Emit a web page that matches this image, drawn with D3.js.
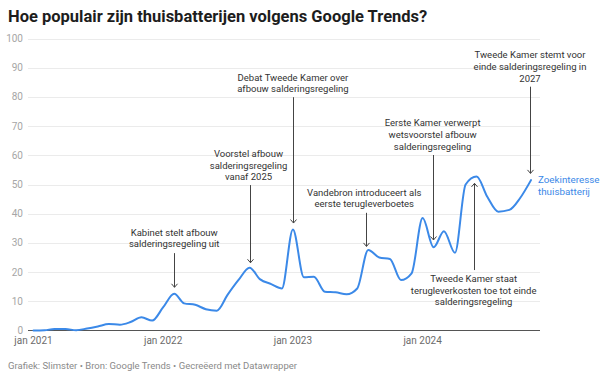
<!DOCTYPE html>
<html>
<head>
<meta charset="utf-8">
<script src="https://cdn.jsdelivr.net/npm/d3@7"></script>
<style>
  body { margin: 0; background: #fff; font-family: Roboto, "Noto Sans", sans-serif; }
  svg { display: block; }
</style>
</head>
<body>
<div id="chart"></div>
<script>
// Google Trends search interest "thuisbatterij", monthly
const months = [
  "2021-01", "2021-02", "2021-03", "2021-04", "2021-05", "2021-06", "2021-07", "2021-08", "2021-09", "2021-10", "2021-11", "2021-12",
  "2022-01", "2022-02", "2022-03", "2022-04", "2022-05", "2022-06", "2022-07", "2022-08", "2022-09", "2022-10", "2022-11", "2022-12",
  "2023-01", "2023-02", "2023-03", "2023-04", "2023-05", "2023-06", "2023-07", "2023-08", "2023-09", "2023-10", "2023-11", "2023-12",
  "2024-01", "2024-02", "2024-03", "2024-04", "2024-05", "2024-06", "2024-07", "2024-08", "2024-09", "2024-10", "2024-11"
];
const interest = [
  0, 0.1, 0.5, 0.5, 0.1, 0.7, 1.4, 2.2, 2, 2.9, 4.5, 3.4,
  8, 12.6, 9.3, 8.8, 7.3, 6.8, 12.2, 17.3, 21.5, 17.5, 15.9, 14.4,
  34.6, 18.2, 18.4, 13.3, 13.1, 12.4, 14.4, 27.6, 25, 24.5, 17.3, 19.6,
  38.5, 28.5, 34, 26.6, 50, 52.7, 45.8, 40.7, 41.3, 45.3, 51.5
];
const yTicks = [0, 10, 20, 30, 40, 50, 60, 70, 80, 90, 100];
const xTicks = ["2021-01", "2022-01", "2023-01", "2024-01"];
const seriesLabel = ["Zoekinteresse", "thuisbatterij"];

// annotations: month, text lines, first baseline (value units), arrow start / tip (value units)
const annotations = [
  { month: "2022-02", lines: ["Kabinet stelt afbouw", "salderingsregeling uit"], textAt: 32.5, from: 26.5, to: 14.8, dx: 0 },
  { month: "2022-09", lines: ["Voorstel afbouw", "salderingsregeling", "vanaf 2025"], textAt: 59.4, from: 49.8, to: 23.2, dx: -1 },
  { month: "2023-01", lines: ["Debat Tweede Kamer over", "afbouw salderingsregeling"], textAt: 85.6, from: 79.9, to: 36.8, dx: 0 },
  { month: "2023-08", lines: ["Vandebron introduceert als", "eerste terugleverboetes"], textAt: 46.1, from: 40.3, to: 28.8, dx: -4, ax: -2 },
  { month: "2024-02", lines: ["Eerste Kamer verwerpt", "wetsvoorstel afbouw", "salderingsregeling"], textAt: 69.9, from: 60.1, to: 31, dx: -1, ax: -1 },
  { month: "2024-06", lines: ["Tweede Kamer staat", "terugleverkosten toe tot einde", "salderingsregeling"], textAt: 16.6, from: 20.7, to: 50.4, dx: -3, ax: -3 },
  { month: "2024-11", lines: ["Tweede Kamer stemt voor", "einde salderingsregeling in", "2027"], textAt: 93.2, from: 83.5, to: 53.8, dx: -1, ax: -1 }
];

const width = 600;
const height = 377;
const parse = d3.timeParse("%Y-%m");
const data = months.map((m, i) => ({ date: parse(m), value: interest[i] }));

const svg = d3.select("#chart")
    .append("svg")
    .attr("width", width)
    .attr("height", height);

const x = d3.scaleTime()
    .domain(d3.extent(data, d => d.date))
    .range([33.5, 531]);

const y = d3.scaleLinear()
    .domain([0, 100])
    .range([330.5, 38.5]);

svg.append("text")
    .attr("x", 8)
    .attr("y", 22)
    .attr("font-size", 16.5)
    .attr("font-weight", 700)
    .attr("fill", "#1d1d1d")
    .text("Hoe populair zijn thuisbatterijen volgens Google Trends?");

// gridlines + y labels
const grid = svg.append("g");
grid.selectAll("line")
    .data(yTicks.filter(d => d > 0))
    .join("line")
    .attr("x1", 28)
    .attr("x2", 540)
    .attr("y1", d => Math.round(y(d)) + 0.5)
    .attr("y2", d => Math.round(y(d)) + 0.5)
    .attr("stroke", "#ebebeb");

grid.selectAll("text")
    .data(yTicks)
    .join("text")
    .attr("x", 23)
    .attr("y", d => y(d) + 3.5)
    .attr("text-anchor", "end")
    .attr("font-size", 10)
    .attr("fill", "#a6a6a6")
    .text(d => d);

svg.append("g")
    .selectAll("text")
    .data(xTicks)
    .join("text")
    .attr("x", d => x(parse(d)))
    .attr("y", 344)
    .attr("text-anchor", "middle")
    .attr("font-size", 10)
    .attr("fill", "#6b6b6b")
    .text(d => "jan " + d.slice(0, 4));

// the line
const line = d3.line()
    .x(d => x(d.date))
    .y(d => y(d.value))
    .curve(d3.curveMonotoneX);

svg.append("line")
    .attr("x1", 28)
    .attr("x2", 540)
    .attr("y1", y(0))
    .attr("y2", y(0))
    .attr("stroke", "#555")
    .attr("stroke-width", 1);

svg.append("path")
    .datum(data)
    .attr("d", line)
    .attr("fill", "none")
    .attr("stroke", "#3b89e8")
    .attr("stroke-width", 2)
    .attr("stroke-linejoin", "round")
    .attr("stroke-linecap", "round");

const last = data[data.length - 1];
svg.append("text")
    .attr("x", x(last.date) + 7)
    .attr("y", y(last.value) + 3)
    .attr("font-size", 9.8)
    .attr("fill", "#3b89e8")
    .selectAll("tspan")
    .data(seriesLabel)
    .join("tspan")
    .attr("x", x(last.date) + 7)
    .attr("dy", (d, i) => i === 0 ? 0 : 11.5)
    .text(d => d);

// annotations
const ann = svg.append("g")
    .selectAll("g")
    .data(annotations)
    .join("g");

ann.append("text")
    .attr("text-anchor", "middle")
    .attr("font-size", 9.5)
    .attr("fill", "#333")
    .attr("y", d => y(d.textAt))
    .selectAll("tspan")
    .data(d => d.lines.map(l => ({ l, cx: x(parse(d.month)) + d.dx })))
    .join("tspan")
    .attr("x", d => d.cx)
    .attr("dy", (d, i) => i === 0 ? 0 : 11.6)
    .text(d => d.l);

ann.append("line")
    .attr("x1", d => Math.round(x(parse(d.month)) + (d.ax || 0)) + 0.5)
    .attr("x2", d => Math.round(x(parse(d.month)) + (d.ax || 0)) + 0.5)
    .attr("y1", d => y(d.from))
    .attr("y2", d => y(d.to))
    .attr("stroke", "#444")
    .attr("stroke-width", 1);

ann.append("path")
    .attr("d", d => {
        const ax = Math.round(x(parse(d.month)) + (d.ax || 0)) + 0.5;
        const ty = y(d.to);
        const s = d.to > d.from ? 1 : -1; // arrow up or down
        return `M${ax - 3},${ty + 3.5 * s}L${ax},${ty}L${ax + 3},${ty + 3.5 * s}`;
    })
    .attr("fill", "none")
    .attr("stroke", "#444")
    .attr("stroke-width", 1);

svg.append("text")
    .attr("x", 8)
    .attr("y", 369)
    .attr("font-size", 9.5)
    .attr("fill", "#8a8a8a")
    .text("Grafiek: Slimster • Bron: Google Trends • Gecreëerd met Datawrapper");
</script>
</body>
</html>
